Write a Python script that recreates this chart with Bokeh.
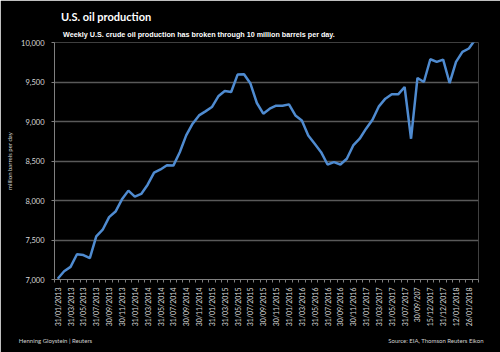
import math
from bokeh.plotting import figure
from bokeh.models import (Range1d, FixedTicker, NumeralTickFormatter, LinearAxis, ColumnDataSource)
from bokeh.embed import file_html
from bokeh.resources import INLINE

# ---- data ----
tick_labels = ["31/01/2013", "31/03/2013", "31/05/2013", "31/07/2013", "30/09/2013", "30/11/2013",
               "31/01/2014", "31/03/2014", "31/05/2014", "31/07/2014", "30/09/2014", "30/11/2014",
               "31/01/2015", "31/03/2015", "31/05/2015", "31/07/2015", "30/09/2015", "30/11/2015",
               "31/01/2016", "31/03/2016", "31/05/2016", "31/07/2016", "30/09/2016", "30/11/2016",
               "31/01/2017", "31/03/2017", "31/05/2017", "31/07/2017", "30/09/207", "15/12/2017",
               "31/12/2017", "12/01/2018", "26/01/2018"]
production = [7010, 7105, 7160, 7320, 7310, 7270, 7545, 7630, 7790, 7860,
              8015, 8125, 8050, 8083, 8200, 8352, 8393, 8446, 8442, 8610,
              8824, 8972, 9077, 9128, 9183, 9319, 9386, 9373, 9594, 9598,
              9480, 9234, 9099, 9162, 9200, 9200, 9217, 9077, 9014, 8824,
              8718, 8612, 8456, 8485, 8456, 8528, 8697, 8782, 8909, 9023,
              9192, 9289, 9344, 9344, 9437, 8782, 9551, 9500, 9788, 9754,
              9784, 9487, 9754, 9881, 9924, 10038]
y_ticks = [7000, 7500, 8000, 8500, 9000, 9500, 10000]

title_text = "U.S. oil production"
subtitle_text = "Weekly U.S. crude oil production has broken through 10 million barrels per day."
y_label_text = "million barrels per day"
credit_text = "Henning Gloystein | Reuters"
source_text = "Source: EIA, Thomson Reuters Eikon"

W, H = 500, 352
FL, FR, FT, FB = 54, 22, 42, 73
n = len(production)
x0, x1 = -0.5, n - 0.5
unit = (W - FL - FR) / (x1 - x0)


def px_to_x(px):
    # canvas pixel column -> x value, used only to place header/footer texts
    return round(x0 + (px - FL) / unit, 2)


src = ColumnDataSource(dict(x=list(range(n)), y=production))
p = figure(width=W, height=H, output_backend="svg", toolbar_location=None,
           x_range=Range1d(x0, x1), y_range=Range1d(7000, 10000),
           min_border_left=FL, min_border_right=FR, min_border_top=FT, min_border_bottom=FB)
p.background_fill_color = "black"
p.border_fill_color = "black"
p.outline_line_color = None

p.line("x", "y", source=src, line_color="#4f8bd0", line_width=2.5)

p.xgrid.grid_line_color = None
p.ygrid.grid_line_color = "#595959"
p.ygrid.grid_line_width = 1.5
p.ygrid.ticker = FixedTicker(ticks=y_ticks)

yax = p.yaxis[0]
yax.ticker = FixedTicker(ticks=y_ticks)
yax.formatter = NumeralTickFormatter(format="0,0")
yax.axis_line_color = "#7f7f7f"
yax.major_tick_line_color = "#7f7f7f"
yax.major_tick_out = 3
yax.major_tick_in = 0
yax.minor_tick_line_color = None
yax.major_label_text_color = "#d9d9d9"
yax.major_label_text_font = "Lato"
yax.major_label_text_font_size = "7.5px"
yax.major_label_standoff = 7
yax.axis_label = y_label_text
yax.axis_label_text_font = "Lato"
yax.axis_label_text_font_size = "6px"
yax.axis_label_text_font_style = "normal"
yax.axis_label_text_color = "#d9d9d9"
yax.axis_label_standoff = 5

xax = p.xaxis[0]
label_pos = list(range(0, 2 * len(tick_labels), 2))
xax.ticker = FixedTicker(ticks=label_pos, minor_ticks=[i - 0.5 for i in range(n + 1)])
xax.major_label_overrides = {pos: lab for pos, lab in zip(label_pos, tick_labels)}
xax.major_label_orientation = math.pi / 2
xax.axis_line_color = "#7f7f7f"
xax.major_tick_out = 0
xax.major_tick_in = 0
xax.minor_tick_line_color = "#7f7f7f"
xax.minor_tick_out = 3
xax.minor_tick_in = 0
xax.major_label_text_color = "#d9d9d9"
xax.major_label_text_font = "Lato"
xax.major_label_text_font_size = "7px"
xax.major_label_standoff = 5


def text_axis(items, font, size, color, bold, standoff):
    ticks = [px_to_x(c) for c, _ in items]
    ax = LinearAxis(ticker=FixedTicker(ticks=ticks, minor_ticks=[]),
                    major_label_overrides={t: s for t, (_, s) in zip(ticks, items)},
                    axis_line_color=None, major_tick_line_color=None,
                    minor_tick_line_color=None, major_tick_out=0, major_tick_in=0,
                    major_label_standoff=standoff, major_label_text_font=font,
                    major_label_text_font_size=size, major_label_text_color=color,
                    major_label_text_font_style="bold" if bold else "normal",
                    major_label_orientation="horizontal")
    return ax


# header texts (centre columns of the reference texts)
p.add_layout(text_axis([(198.5, subtitle_text)], "Liberation Sans", "7.2px", "white", True, 4), "above")
p.add_layout(text_axis([(105.5, title_text)], "Lato", "11px", "white", True, 4), "above")
# footer texts
p.add_layout(text_axis([(55, credit_text), (435.5, source_text)], "Lato", "6px", "#d0d0d0", False, 7),
             "below")

open("out.html", "w").write(file_html(p, INLINE))
